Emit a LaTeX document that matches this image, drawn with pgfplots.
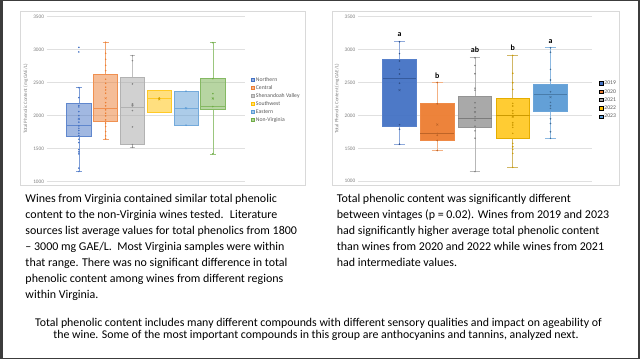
\documentclass[border=0pt]{standalone}
\usepackage{fontspec}
\setmainfont{Carlito}
\usepackage{pgfplots}
\pgfplotsset{compat=1.18}
\definecolor{cA}{HTML}{4472C4}
\definecolor{cB}{HTML}{ED7D31}
\definecolor{cC}{HTML}{A5A5A5}
\definecolor{cD}{HTML}{FFC000}
\definecolor{cE}{HTML}{5B9BD5}
\definecolor{cF}{HTML}{70AD47}
\definecolor{framecol}{HTML}{3C3C3C}
\definecolor{panel}{HTML}{D9D9D9}
\definecolor{ticktext}{HTML}{808080}
\definecolor{legtext}{HTML}{595959}
\pgfplotsset{
  tpc/.style={
    scale only axis, anchor=south west,
    ymin=1000, ymax=3500, ytick={1000,1500,...,3500},
    ymajorgrids, grid style={draw=black!12, line width=0.5bp},
    axis line style={draw=none}, xtick=\empty, major tick length=0pt,
    /pgf/number format/assume math mode=true,
    /pgf/number format/1000 sep={},
    unbounded coords=jump,
    yticklabel style={font=\fontsize{5.3}{6}\selectfont, text=ticktext, inner sep=0pt, anchor=east, xshift=-2.5bp},
    ylabel={Total Phenolic Content (mg GAE/L)},
    every axis y label/.style={rotate=90, anchor=center, font=\fontsize{5}{6}\selectfont, text=ticktext},
    legend cell align=left,
    legend style={anchor=north west, draw=none, fill=none, inner sep=0pt, outer sep=0pt,
      font=\fontsize{5.7}{6}\selectfont, text=legtext, row sep=2.6bp, column sep=1.4bp,
      nodes={inner sep=0pt, text height=4.2bp, text depth=1.2bp}},
    legend image code/.code={\draw[##1] (0bp,-1.7bp) rectangle (3.4bp,1.7bp);},
  },
  pts/.style={only marks, mark=*, mark size=0.55bp, forget plot},
  avgx/.style={only marks, mark=x, mark size=1.4bp, line width=0.4bp, forget plot},
  whisk/.style={forget plot, line width=0.6bp, mark=none},
}
\begin{document}
\begin{tikzpicture}
\begin{scope}[x=1bp,y=1bp]
\useasboundingbox (0,0) rectangle (640,359);
\fill[framecol] (0,0) rectangle (640,359);
\fill[white] (2.8,1.3) rectangle (638,357.7);
\draw[panel, line width=0.6bp] (20.7,173.7) rectangle (305,347.3);
\draw[panel, line width=0.6bp] (332.7,173.7) rectangle (619,347.3);
\end{scope}

% ---------------- left chart: regions ----------------
\begin{axis}[tpc, at={(46.7bp,177.5bp)}, width=198.3bp, height=164.8bp,
  xmin=-0.2, xmax=7.2,
  every axis y label/.append style={at={(axis description cs:-0.106,0.5)}},
  legend style={at={(axis description cs:1.029,0.634)}}]
\addlegendimage{draw=cA, fill=cA!55}\addlegendentry{Northern}
\addlegendimage{draw=cB, fill=cB!55}\addlegendentry{Central}
\addlegendimage{draw=cC, fill=cC!55}\addlegendentry{Shenandoah Valley}
\addlegendimage{draw=cD, fill=cD!55}\addlegendentry{Southwest}
\addlegendimage{draw=cE, fill=cE!55}\addlegendentry{Eastern}
\addlegendimage{draw=cF, fill=cF!55}\addlegendentry{Non-Virginia}
% Northern
\addplot[whisk, draw=cA!70] coordinates {(1,2182) (1,2424) (1,nan) (0.89,2424) (1.11,2424) (1,nan) (1,1687) (1,1152) (1,nan) (0.89,1152) (1.11,1152)};
\addplot[forget plot, draw=cA!85, fill=cA, fill opacity=0.5, line width=0.6bp] coordinates {(0.55,1687) (1.45,1687) (1.45,2182) (0.55,2182)} -- cycle;
\addplot[whisk, draw=cA!85] coordinates {(0.55,1854) (1.45,1854)};
% Central
\addplot[whisk, draw=cB!70] coordinates {(2,2626) (2,3111) (2,nan) (1.89,3111) (2.11,3111) (2,nan) (2,1914) (2,1647) (2,nan) (1.89,1647) (2.11,1647)};
\addplot[forget plot, draw=cB!85, fill=cB, fill opacity=0.5, line width=0.6bp] coordinates {(1.55,1914) (2.45,1914) (2.45,2626) (1.55,2626)} -- cycle;
\addplot[whisk, draw=cB!85] coordinates {(1.55,2111) (2.45,2111)};
% Shenandoah Valley
\addplot[whisk, draw=cC!70] coordinates {(3,2581) (3,2909) (3,nan) (2.89,2909) (3.11,2909) (3,nan) (3,1566) (3,1520) (3,nan) (2.89,1520) (3.11,1520)};
\addplot[forget plot, draw=cC!85, fill=cC, fill opacity=0.5, line width=0.6bp] coordinates {(2.55,1566) (3.45,1566) (3.45,2581) (2.55,2581)} -- cycle;
\addplot[whisk, draw=cC!85] coordinates {(2.55,2126) (3.45,2126)};
% Southwest
\addplot[forget plot, draw=cD!85, fill=cD, fill opacity=0.5, line width=0.6bp] coordinates {(3.55,2046) (4.45,2046) (4.45,2389) (3.55,2389)} -- cycle;
\addplot[whisk, draw=cD!85] coordinates {(3.55,2268) (4.45,2268)};
% Eastern
\addplot[forget plot, draw=cE!85, fill=cE, fill opacity=0.5, line width=0.6bp] coordinates {(4.55,1854) (5.45,1854) (5.45,2369) (4.55,2369)} -- cycle;
\addplot[whisk, draw=cE!85] coordinates {(4.55,2111) (5.45,2111)};
% Non-Virginia
\addplot[whisk, draw=cF!70] coordinates {(6,2561) (6,3106) (6,nan) (5.89,3106) (6.11,3106) (6,nan) (6,2101) (6,1419) (6,nan) (5.89,1419) (6.11,1419)};
\addplot[forget plot, draw=cF!85, fill=cF, fill opacity=0.5, line width=0.6bp] coordinates {(5.55,2101) (6.45,2101) (6.45,2561) (5.55,2561)} -- cycle;
\addplot[whisk, draw=cF!85] coordinates {(5.55,2136) (6.45,2136)};
% points
\addplot[pts, color=cA] coordinates {(1,3035) (1,2965) (1,2424) (1,2273) (1,2152) (1,2131) (1,2061) (1,2000) (1,1900) (1,1844) (1,1808) (1,1773) (1,1732) (1,1697) (1,1641) (1,1591) (1,1485) (1,1450) (1,1419) (1,1202) (1,1152)};
\addplot[pts, color=cB] coordinates {(2,3112) (2,2945) (2,2854) (2,2763) (2,2682) (2,2551) (2,2490) (2,2430) (2,2389) (2,2339) (2,2197) (2,2147) (2,2087) (2,2036) (2,1996) (2,1935) (2,1885) (2,1834) (2,1758) (2,1693) (2,1647)};
\addplot[pts, color=cC!80!black] coordinates {(3,2909) (3,2833) (3,2480) (3,2177) (3,2147) (3,2076) (3,1828) (3,1560) (3,1520)};
\addplot[pts, color=cD!85!black] coordinates {(4,2268) (4,2255)};
\addplot[pts, color=cE] coordinates {(5,2369) (5,1854)};
\addplot[pts, color=cF] coordinates {(6,3106) (6,2561) (6,2333) (6,2263) (6,2137) (6,1420)};
\addplot[avgx, color=cA] coordinates {(1,1950)};
\addplot[avgx, color=cB] coordinates {(2,2263)};
\addplot[avgx, color=cC!80!black] coordinates {(3,2162)};
\addplot[avgx, color=cD!85!black] coordinates {(4,2248)};
\addplot[avgx, color=cE] coordinates {(5,2111)};
\addplot[avgx, color=cF] coordinates {(6,2258)};
\end{axis}

% ---------------- right chart: vintages ----------------
\begin{axis}[tpc, at={(358bp,177.7bp)}, width=234bp, height=164.6bp,
  xmin=-0.1, xmax=6.1,
  every axis y label/.append style={at={(axis description cs:-0.09,0.5)}},
  legend style={at={(axis description cs:1.031,0.612)}, row sep=2.9bp}]
\addlegendimage{draw=none, fill=cA}\addlegendentry{2019}
\addlegendimage{draw=none, fill=cB}\addlegendentry{2020}
\addlegendimage{draw=none, fill=cC}\addlegendentry{2021}
\addlegendimage{draw=none, fill=cD}\addlegendentry{2022}
\addlegendimage{draw=none, fill=cE}\addlegendentry{2023}
% 2019
\addplot[whisk, draw=cA!60] coordinates {(1,2856) (1,3120) (1,nan) (0.86,3120) (1.14,3120) (1,nan) (1,1842) (1,1563) (1,nan) (0.86,1563) (1.14,1563)};
\addplot[forget plot, draw=cA!90, fill=cA, fill opacity=0.95, line width=0.7bp] coordinates {(0.555,1842) (1.445,1842) (1.445,2856) (0.555,2856)} -- cycle;
\addplot[whisk, draw=cA!80!black] coordinates {(0.555,2562) (1.445,2562)};
% 2020
\addplot[whisk, draw=cB!60] coordinates {(2,2177) (2,2501) (2,nan) (1.86,2501) (2.14,2501) (2,nan) (2,1629) (2,1467) (2,nan) (1.86,1467) (2.14,1467)};
\addplot[forget plot, draw=cB!90, fill=cB, fill opacity=0.95, line width=0.7bp] coordinates {(1.555,1629) (2.445,1629) (2.445,2177) (1.555,2177)} -- cycle;
\addplot[whisk, draw=cB!80!black] coordinates {(1.555,1736) (2.445,1736)};
% 2021
\addplot[whisk, draw=cC!80] coordinates {(3,2288) (3,2876) (3,nan) (2.86,2876) (3.14,2876) (3,nan) (3,1817) (3,1147) (3,nan) (2.86,1147) (3.14,1147)};
\addplot[forget plot, draw=cC!90!black, fill=cC, fill opacity=0.95, line width=0.7bp] coordinates {(2.555,1817) (3.445,1817) (3.445,2288) (2.555,2288)} -- cycle;
\addplot[whisk, draw=cC!75!black] coordinates {(2.555,1959) (3.445,1959)};
% 2022
\addplot[whisk, draw=cD!70!black!60] coordinates {(4,2258) (4,2912) (4,nan) (3.86,2912) (4.14,2912) (4,nan) (4,1654) (4,1208) (4,nan) (3.86,1208) (4.14,1208)};
\addplot[forget plot, draw=cD!90!black, fill=cD, fill opacity=0.8, line width=0.7bp] coordinates {(3.555,1654) (4.445,1654) (4.445,2258) (3.555,2258)} -- cycle;
\addplot[whisk, draw=cD!80!black] coordinates {(3.555,2000) (4.445,2000)};
% 2023
\addplot[whisk, draw=cE!70] coordinates {(5,2471) (5,3028) (5,nan) (4.86,3028) (5.14,3028) (5,nan) (5,2065) (5,1650) (5,nan) (4.86,1650) (5.14,1650)};
\addplot[forget plot, draw=cE!90, fill=cE, fill opacity=0.95, line width=0.7bp] coordinates {(4.555,2065) (5.445,2065) (5.445,2471) (4.555,2471)} -- cycle;
\addplot[whisk, draw=cE!80!black] coordinates {(4.555,2319) (5.445,2319)};
% points
\addplot[pts, color=cA!70!black] coordinates {(1,3120) (1,2939) (1,2827) (1,2700) (1,2630) (1,2490) (1,1860) (1,1790) (1,1563)};
\addplot[pts, color=cB!80!black] coordinates {(2,2501) (2,2177) (2,1727) (2,1700) (2,1620) (2,1467)};
\addplot[pts, color=cC!75!black] coordinates {(3,2876) (3,2760) (3,2633) (3,2415) (3,2385) (3,2193) (3,2117) (3,2055) (3,1979) (3,1928) (3,1837) (3,1766) (3,1655) (3,1147)};
\addplot[pts, color=cD!80!black] coordinates {(4,2912) (4,2640) (4,2497) (4,2396) (4,2183) (4,2143) (4,2071) (4,2031) (4,1980) (4,1889) (4,1854) (4,1819) (4,1728) (4,1576) (4,1525) (4,1485) (4,1424) (4,1211)};
\addplot[pts, color=cE!70!black] coordinates {(5,3028) (5,2959) (5,2700) (5,2538) (5,2360) (5,2199) (5,2147) (5,2107) (5,1950) (5,1879) (5,1752) (5,1652)};
\addplot[avgx, color=cA!70!black] coordinates {(1,2385)};
\addplot[avgx, color=cB!80!black] coordinates {(2,1862)};
\addplot[avgx, color=cC!75!black] coordinates {(3,2050)};
\addplot[avgx, color=cD!80!black] coordinates {(4,1984)};
\addplot[avgx, color=cE!70!black] coordinates {(5,2278)};
\node[font=\fontsize{8}{9}\selectfont\bfseries] at (axis cs:1,3222) {a};
\node[font=\fontsize{8}{9}\selectfont\bfseries] at (axis cs:2,2609) {b};
\node[font=\fontsize{8}{9}\selectfont\bfseries] at (axis cs:3,2994) {ab};
\node[font=\fontsize{8}{9}\selectfont\bfseries] at (axis cs:4,3024) {b};
\node[font=\fontsize{8}{9}\selectfont\bfseries] at (axis cs:5,3126) {a};
\end{axis}

% ---------------- text ----------------
\begin{scope}[x=1bp,y=1bp,every node/.style={anchor=base west, inner sep=0pt, font=\fontsize{12}{14}\selectfont}]
\node at (25.3,156.7) {Wines from Virginia contained similar total phenolic};
\node at (25.3,140.7) {content to the non-Virginia wines tested.~ Literature};
\node at (25.3,124.7) {sources list average values for total phenolics from 1800};
\node at (25.3,108.7) {– 3000 mg GAE/L.~ Most Virginia samples were within};
\node at (25.3,92.7) {that range. There was no significant difference in total};
\node at (25.3,76.7) {phenolic content among wines from different regions};
\node at (25.3,60.7) {within Virginia.};
\node at (336.7,156.7) {Total phenolic content was significantly different};
\node at (336.7,140.7) {between vintages (p = 0.02). Wines from 2019 and 2023};
\node at (336.7,124.7) {had significantly higher average total phenolic content};
\node at (336.7,108.7) {than wines from 2020 and 2022 while wines from 2021};
\node at (336.7,92.7) {had intermediate values.};
\end{scope}
\begin{scope}[x=1bp,y=1bp,every node/.style={anchor=base, inner sep=0pt, font=\fontsize{11.9}{13}\selectfont}]
\node at (318.5,33) {Total phenolic content includes many different compounds with different sensory qualities and impact on ageability of};
\node at (316,20.7) {the wine. Some of the most important compounds in this group are anthocyanins and tannins, analyzed next.};
\end{scope}
\end{tikzpicture}
\end{document}
